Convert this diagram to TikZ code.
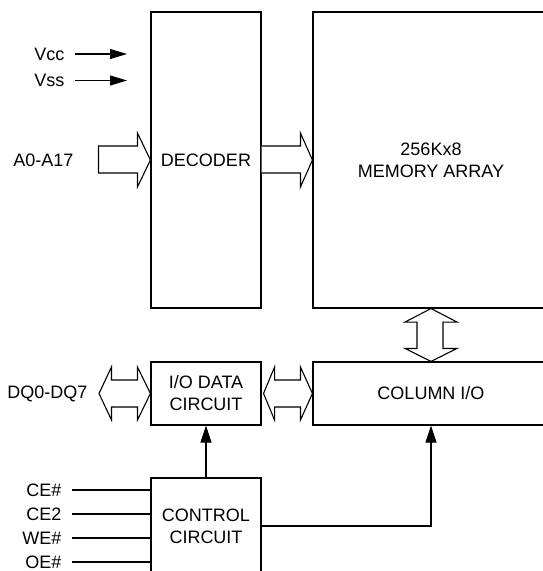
\documentclass[tikz,border=0pt]{standalone}
\usepackage{fontspec}
\setmainfont{Liberation Sans}
\usetikzlibrary{calc,arrows.meta}
\begin{document}
\begin{tikzpicture}[x=1pt,y=-1pt,line width=1.1pt,
  blk/.style={draw,rectangle,inner sep=0pt,align=center,font=\fontsize{18}{22}\selectfont},
  lab/.style={inner sep=0pt,anchor=east,font=\fontsize{18}{22}\selectfont},
  hollow/.style={draw,line join=miter,fill=white},
  sig/.style={-{Triangle[length=17pt,width=10pt]}},
  ctl/.style={-{Triangle[length=17pt,width=11pt]}}]
\useasboundingbox (0,0) rectangle (543,571);
\clip (0,0) rectangle (543,571);
% blocks
\node[blk,minimum width=110pt,minimum height=296pt] (decoder) at (206,160) {DECODER};
\node[blk,minimum width=236pt,minimum height=296pt] (memory) at (431,160) {256Kx8\\MEMORY ARRAY};
\node[blk,minimum width=236pt,minimum height=63pt] (column) at (431,393.5) {COLUMN I/O};
\node[blk,minimum width=110pt,minimum height=63pt] (iodata) at (206,393.5) {I/O DATA\\CIRCUIT};
\node[blk,minimum width=110pt,minimum height=96pt] (control) at (206,526) {CONTROL\\CIRCUIT};
% power labels
\node[lab] (vcc) at (65,54) {Vcc};
\node[lab] (vss) at (65,80.5) {Vss};
\coordinate (vcce) at (127,54);
\coordinate (vsse) at (127,80.5);
\draw[sig] ([xshift=10pt]vcc.east) -- (vcce);
\draw[sig] ([xshift=10pt]vss.east) -- (vsse);
% address
\node[lab] (addr) at (74,160) {A0-A17};
\draw[hollow] ($(decoder.west)+(-52,-14)$) -- ($(decoder.west)+(-13,-14)$) -- ($(decoder.west)+(-13,-27)$)
  -- (decoder.west) -- ($(decoder.west)+(-13,27)$) -- ($(decoder.west)+(-13,13)$) -- ($(decoder.west)+(-52,13)$) -- cycle;
% decoder -> memory
\draw[hollow] ($(decoder.east)+(0,-14)$) -- ($(memory.west)+(-12,-14)$) -- ($(memory.west)+(-12,-27)$)
  -- (memory.west) -- ($(memory.west)+(-12,27)$) -- ($(memory.west)+(-12,13)$) -- ($(decoder.east)+(0,13)$);
% memory <-> column
\draw[hollow] (memory.south) -- ($(memory.south)+(26,13.5)$) -- ($(memory.south)+(12,13.5)$)
  -- ($(column.north)+(12,-13)$) -- ($(column.north)+(26,-13)$) -- (column.north)
  -- ($(column.north)+(-26,-13)$) -- ($(column.north)+(-14,-13)$) -- ($(memory.south)+(-14,13.5)$)
  -- ($(memory.south)+(-26,13.5)$) -- cycle;
% DQ <-> iodata
\node[lab] (dq) at (88,393.5) {DQ0-DQ7};
\coordinate (dqt) at (99,393.5);
\draw[hollow] (dqt) -- ($(dqt)+(12.5,-26.5)$) -- ($(dqt)+(12.5,-13.5)$) -- ($(iodata.west)+(-13,-13.5)$)
  -- ($(iodata.west)+(-13,-26.5)$) -- (iodata.west) -- ($(iodata.west)+(-13,26.5)$) -- ($(iodata.west)+(-13,13.5)$)
  -- ($(dqt)+(12.5,13.5)$) -- ($(dqt)+(12.5,26.5)$) -- cycle;
% iodata <-> column
\draw[hollow] ($(iodata.east)+(2,0)$) -- ($(iodata.east)+(13,-26.5)$) -- ($(iodata.east)+(13,-13.5)$) -- ($(column.west)+(-12,-13.5)$)
  -- ($(column.west)+(-12,-26.5)$) -- (column.west) -- ($(column.west)+(-12,26.5)$) -- ($(column.west)+(-12,13.5)$)
  -- ($(iodata.east)+(13,13.5)$) -- ($(iodata.east)+(13,26.5)$) -- cycle;
% control inputs
\node[lab] (ce) at (62,490) {CE\#};
\node[lab] (ce2) at (62,514) {CE2};
\node[lab] (we) at (62,538) {WE\#};
\node[lab] (oe) at (62,562) {OE\#};
\foreach \n in {ce,ce2,we,oe}
  \draw ([xshift=10pt]\n.east) -- (\n.east -| control.west);
% control outputs
\draw[ctl] (control.north) -- (iodata.south);
\draw[ctl] (control.east) -| (column.south);
\end{tikzpicture}
\end{document}
